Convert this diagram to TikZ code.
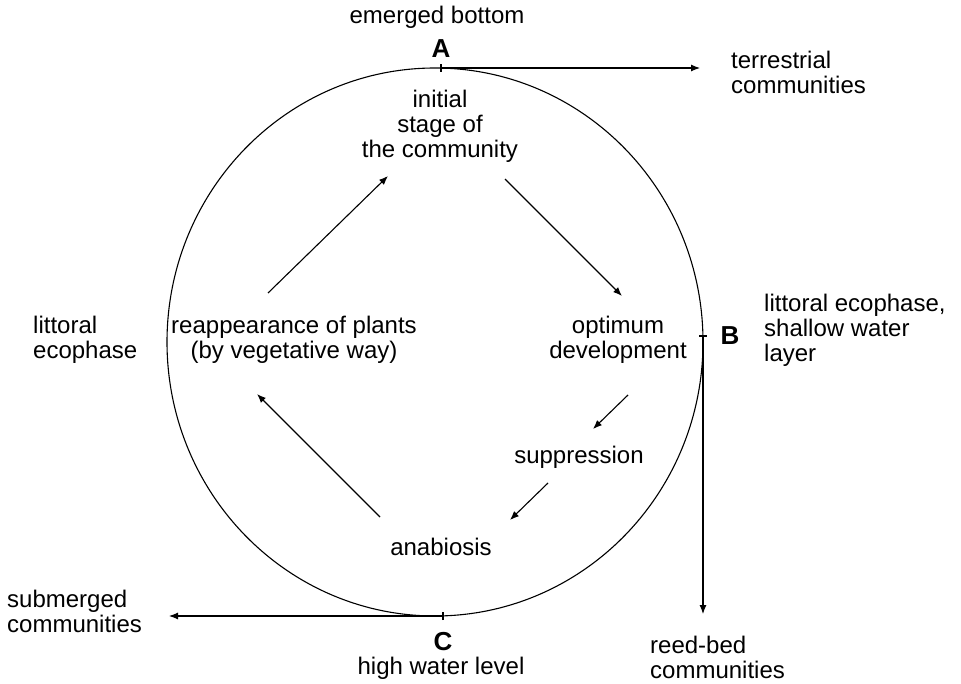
\documentclass[tikz,border=0pt]{standalone}
\usepackage{fontspec}
\setmainfont{Liberation Sans}
\usetikzlibrary{arrows.meta}
\tikzset{
  lbl/.style={font=\fontsize{24}{25}\selectfont,inner sep=0pt,align=center},
  letter/.style={font=\fontsize{26}{27}\selectfont\bfseries,inner sep=0pt},
  flow/.style={->,line width=1.1pt}
}
\begin{document}
\begin{tikzpicture}[x=1pt,y=-1pt,>={Latex[length=9pt,width=7pt]}]
\useasboundingbox (0,0) rectangle (961,684);

% the cycle
\draw[line width=1.1pt] (435,342) ellipse [x radius=268pt, y radius=274pt];

\begin{scope}[every node/.style={lbl}]
\node (emer) at (437,17) {emerged bottom};
\node (terr) [anchor=west,align=left] at (731,72) {terrestrial\\communities};
\node (shal) [anchor=west,align=left] at (764,330) {littoral ecophase,\\shallow water\\layer};
\node (reed) [anchor=west,align=left] at (650,657) {reed-bed\\communities};
\node (high) at (441,668) {high water level};
\node (subm) [anchor=west,align=left] at (7,611) {submerged\\communities};
\node (litt) [anchor=west,align=left] at (33,340) {littoral\\ecophase};
\node (init) at (440,126) {initial\\stage of\\the community};
\node (opt) at (618,340) {optimum\\development};
\node (supp) at (579,457) {suppression};
\node (anab) at (441,547) {anabiosis};
\node (reap) at (294,340) {reappearance of plants\\(by vegetative way)};
\end{scope}

\begin{scope}[every node/.style={letter}]
\node (A) at (441,49) {A};
\node (B) at (730,336) {B};
\node (C) at (443,642) {C};
\end{scope}

% points on the circle and arrow ends
\coordinate (tA) at (441,68);
\coordinate (tB) at (703,336);
\coordinate (tC) at (443,616);
\coordinate (eA) at (700,68);
\coordinate (eB) at (703,614);
\coordinate (eC) at (169,616);
\coordinate (r1) at (268,293);
\coordinate (i1) at (388,176);
\coordinate (i2) at (505,179);
\coordinate (o2) at (622,296);
\coordinate (o3) at (628,395);
\coordinate (s3) at (593,429);
\coordinate (s4) at (548,483);
\coordinate (n4) at (510,520);
\coordinate (n5) at (380,517);
\coordinate (r5) at (257,394);

% ticks
\draw[line width=1.1pt] ([yshift=-4pt]tA) -- ([yshift=4pt]tA);
\draw[line width=1.1pt] ([xshift=-4pt]tB) -- ([xshift=4pt]tB);
\draw[line width=1.1pt] ([yshift=-4pt]tC) -- ([yshift=4pt]tC);

\begin{scope}[every edge/.style={draw,flow}]
    \path (tA) edge (eA);
    \path (tB) edge (eB);
    \path (tC) edge (eC);
    \path (r1) edge (i1);
    \path (i2) edge (o2);
    \path (o3) edge (s3);
    \path (s4) edge (n4);
    \path (n5) edge (r5);
\end{scope}
\end{tikzpicture}
\end{document}
